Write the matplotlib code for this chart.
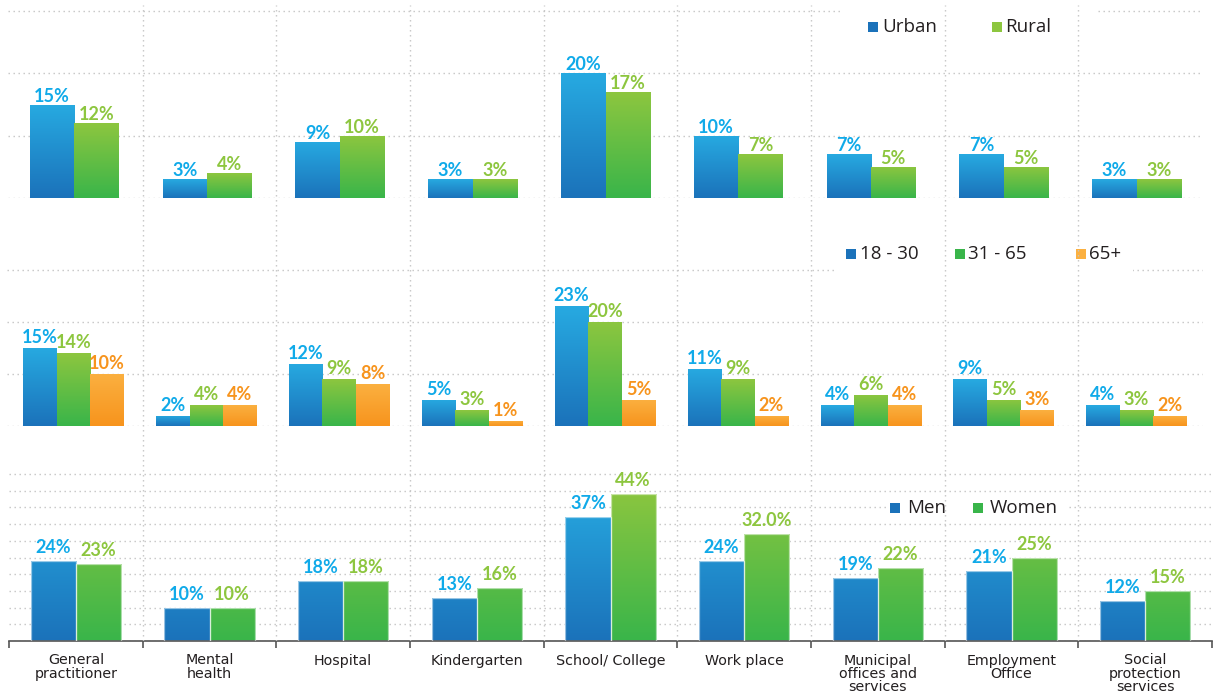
import numpy as np
import matplotlib
matplotlib.use("Agg")
import matplotlib.pyplot as plt
from matplotlib.colors import LinearSegmentedColormap
from matplotlib.patches import Rectangle

# ---------------- data ----------------
categories = ["General\npractitioner", "Mental\nhealth", "Hospital", "Kindergarten",
              "School/ College", "Work place", "Municipal\noffices and\nservices",
              "Employment\nOffice", "Social\nprotection\nservices"]

area_names = ["Urban", "Rural"]
urban = [15, 3, 9, 3, 20, 10, 7, 7, 3]
rural = [12, 4, 10, 3, 17, 7, 5, 5, 3]

age_names = ["18 - 30", "31 - 65", "65+"]
age_18_30 = [15, 2, 12, 5, 23, 11, 4, 9, 4]
age_31_65 = [14, 4, 9, 3, 20, 9, 6, 5, 3]
age_65p = [10, 4, 8, 1, 5, 2, 4, 3, 2]

gender_names = ["Men", "Women"]
men = [24, 10, 18, 13, 37, 24, 19, 21, 12]
women = [23, 10, 18, 16, 44, 32, 22, 25, 15]
men_labels = ["24%", "10%", "18%", "13%", "37%", "24%", "19%", "21%", "12%"]
women_labels = ["23%", "10%", "18%", "16%", "44%", "32.0%", "22%", "25%", "15%"]

# ---------------- style ----------------
W, H = 1213, 697
BLUE = ("#27aae1", "#1b72ba")
GREEN = ("#8dc63f", "#39b54a")
ORANGE = ("#fbb040", "#f7941d")
LBL_BLUE = "#10aae9"
LBL_GREEN = "#8dc63f"
LBL_ORANGE = "#f7941d"
GRID = "#c4c4c4"
DOTS = (0, (1, 2.6))
FONT = "Open Sans"

plt.rcParams["font.family"] = [FONT, "DejaVu Sans"]

fig = plt.figure(figsize=(W / 100, H / 100), dpi=100)


def axes_px(left, top, right, bottom, **kw):
    return fig.add_axes([left / W, 1 - bottom / H, (right - left) / W, (bottom - top) / H], **kw)


def setup(ax, ymax, yticks):
    ax.set_facecolor("none")
    ax.set_xlim(-0.5, 8.5)
    ax.set_ylim(0, ymax)
    ax.set_yticks(yticks)
    ax.tick_params(left=False, labelleft=False, bottom=False, labelbottom=False)
    for s in ax.spines.values():
        s.set_visible(False)
    ax.set_axisbelow(True)
    ax.yaxis.grid(True, linestyle=DOTS, color=GRID, linewidth=1.0)
    ax.xaxis.grid(False)


def grad_bars(ax, x, vals, width, colors, span=None, edge=None):
    c_top, c_bot = colors
    cmap = LinearSegmentedColormap.from_list("g", [c_bot, c_top])
    bars = ax.bar(x, vals, width=width, facecolor="none",
                  edgecolor=edge if edge else "none", linewidth=0.9 if edge else 0, zorder=3)
    grad = np.linspace(0, 1, 256).reshape(-1, 1)
    for b in bars:
        x0, w, h = b.get_x(), b.get_width(), b.get_height()
        lo, hi = (0, h) if span is None else span
        im = ax.imshow(grad, extent=[x0, x0 + w, lo, hi], origin="lower", cmap=cmap,
                       aspect="auto", zorder=2, interpolation="bilinear")
        im.set_clip_path(b)
    return bars


def labels(ax, bars, texts, color, off_px):
    for b, t in zip(bars, texts):
        ax.annotate(t, (b.get_x() + b.get_width() / 2, b.get_height()),
                    xytext=(0, off_px * 0.72), textcoords="offset points",
                    ha="center", va="baseline", color=color, fontsize=13,
                    fontweight="bold", family=["Lato", "DejaVu Sans"], zorder=4)


def legend_px(items, y_base, box):
    bx0, by0, bx1, by1 = box
    fig.patches.append(Rectangle((bx0 / W, 1 - by1 / H), (bx1 - bx0) / W, (by1 - by0) / H,
                                 transform=fig.transFigure, facecolor="white",
                                 edgecolor="none", zorder=1))
    for name, col, mx, tx in items:
        fig.patches.append(Rectangle((mx / W, 1 - y_base / H), 10 / W, 10 / H,
                                     transform=fig.transFigure, facecolor=col,
                                     edgecolor="none", zorder=2))
        fig.text(tx / W, 1 - y_base / H, name, fontsize=13.5, color="#231f20",
                 ha="left", va="baseline", zorder=2)


x = np.arange(len(categories))

# ---------------- top panel: urban / rural ----------------
ax1 = axes_px(8, 5, 1203, 198)
setup(ax1, 31, [0, 10, 20, 30])
w1 = 0.335
b_u = grad_bars(ax1, x - w1 / 2, urban, w1, BLUE)
b_r = grad_bars(ax1, x + w1 / 2, rural, w1, GREEN)
labels(ax1, b_u, [f"{v}%" for v in urban], LBL_BLUE, 3)
labels(ax1, b_r, [f"{v}%" for v in rural], LBL_GREEN, 3)
ax1.set_xlim(-0.5, 8.5); ax1.set_ylim(0, 31)

# ---------------- middle panel: age ----------------
ax2 = axes_px(7, 198, 1203, 426)
setup(ax2, 43.8, [0, 10, 20, 30])
w2 = 0.252
b_a1 = grad_bars(ax2, x - w2, age_18_30, w2, BLUE)
b_a2 = grad_bars(ax2, x, age_31_65, w2, GREEN)
b_a3 = grad_bars(ax2, x + w2, age_65p, w2, ORANGE)
labels(ax2, b_a1, [f"{v}%" for v in age_18_30], LBL_BLUE, 5)
labels(ax2, b_a2, [f"{v}%" for v in age_31_65], LBL_GREEN, 5)
labels(ax2, b_a3, [f"{v}%" for v in age_65p], LBL_ORANGE, 5)
ax2.set_xlim(-0.5, 8.5); ax2.set_ylim(0, 43.8)

# ---------------- bottom panel: gender ----------------
ax3 = axes_px(9, 426, 1212, 641)
setup(ax3, 64.4, np.arange(0, 51, 5))
w3 = 0.337
b_m = grad_bars(ax3, x - w3 / 2, men, w3, BLUE, span=(0, 46), edge=(1, 1, 1, 0.55))
b_w = grad_bars(ax3, x + w3 / 2, women, w3, GREEN, span=(0, 46), edge=(1, 1, 1, 0.55))
labels(ax3, b_m, men_labels, LBL_BLUE, 8)
labels(ax3, b_w, women_labels, LBL_GREEN, 8)
ax3.set_xlim(-0.5, 8.5); ax3.set_ylim(0, 64.4)
ax3.spines["bottom"].set_visible(True)
ax3.spines["bottom"].set_color("#555555")
ax3.spines["bottom"].set_linewidth(1.2)
ax3.set_xticks(np.arange(-0.5, 9, 1))
ax3.set_xticks(x, minor=True)
ax3.set_xticklabels(categories, minor=True, fontsize=10.3, color="#231f20",
                    linespacing=0.95, family="DejaVu Sans")
ax3.tick_params(axis="x", which="major", bottom=True, labelbottom=False, length=5,
                width=1.2, color="#555555", direction="out")
ax3.tick_params(axis="x", which="minor", bottom=True, labelbottom=True, length=0, pad=9)
for t in ax3.get_xticklabels(minor=True):
    t.set_verticalalignment("top")

# ---------------- vertical dotted separators spanning all panels ----------------
axv = axes_px(9, 5, 1212, 641, zorder=5)
axv.set_xlim(-0.5, 8.5); axv.set_ylim(0, 1)
axv.axis("off")
for b in np.arange(0.5, 8, 1):
    axv.axvline(b, color=GRID, linestyle=DOTS, linewidth=1.0)

# ---------------- legends ----------------
legend_px([(area_names[0], BLUE[1], 868, 882), (area_names[1], GREEN[0], 992, 1005)],
          32, (843, 0, 1097, 45))
legend_px([(age_names[0], BLUE[1], 846, 860), (age_names[1], GREEN[1], 955, 968),
           (age_names[2], ORANGE[0], 1076, 1089)],
          259, (835, 232, 1133, 285))
legend_px([(gender_names[0], BLUE[1], 890, 907), (gender_names[1], GREEN[1], 973, 990)],
          513, (887, 496, 1067, 518))

fig.savefig("out.png", dpi=100)
